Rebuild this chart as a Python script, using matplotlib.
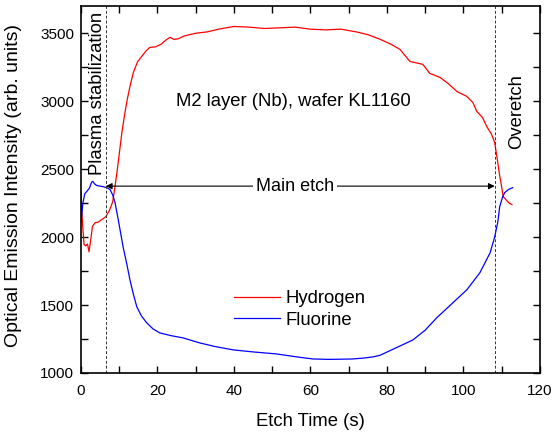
import matplotlib
matplotlib.use("Agg")
import matplotlib.pyplot as plt
import numpy as np

plt.rcParams["font.family"] = ["Liberation Sans", "DejaVu Sans"]

# hydrogen line
h_time = [0, 0.4, 0.8, 1.3, 1.7, 2.1, 2.6, 3.0, 3.7, 4.5, 5.5, 6.5, 7.5, 8.3, 8.9,
          9.4, 10.0, 10.7, 11.4, 12.1, 12.9, 13.7, 14.8, 15.9, 17.0, 18.0, 19.5,
          21.0, 22.2, 23.3, 24.3, 25.5, 27.0, 30.0, 33.0, 36.0, 40.0, 44.0, 48.0,
          52.0, 56.0, 60.0, 64.0, 68.0, 72.0, 75.0, 78.2, 81.0, 83.4, 86.0, 89.4,
          91.2, 93.9, 96.0, 98.3, 100.9, 102.5, 103.5, 105.0, 106.1, 107.3, 108.2,
          108.6, 109.0, 109.5, 110.0, 110.4, 111.3, 112.0, 112.7]
h_vals = [2327, 2100, 1945, 1935, 1950, 1892, 1990, 2080, 2106, 2110, 2130, 2150,
          2200, 2260, 2372, 2475, 2610, 2770, 2900, 3013, 3120, 3212, 3290, 3330,
          3370, 3396, 3400, 3420, 3450, 3470, 3455, 3460, 3480, 3500, 3510, 3530,
          3550, 3545, 3535, 3540, 3545, 3530, 3525, 3530, 3510, 3490, 3456, 3420,
          3382, 3293, 3271, 3205, 3175, 3130, 3072, 3035, 2990, 2925, 2880, 2814,
          2760, 2696, 2620, 2548, 2450, 2371, 2298, 2270, 2250, 2239]

# fluorine line
f_time = [0, 0.5, 1.0, 1.5, 2.2, 2.8, 3.1, 3.6, 4.1, 5.0, 6.0, 7.0, 7.6, 8.3, 8.9,
          9.8, 11.0, 12.0, 12.8, 13.7, 14.6, 15.8, 17.2, 18.8, 20.6, 23.5, 26.7,
          31.1, 35.0, 39.8, 45.0, 51.2, 56.0, 60.7, 65.0, 71.0, 74.0, 76.3, 78.2,
          82.0, 86.8, 90.0, 93.0, 97.0, 100.9, 104.3, 107.0, 108.2, 109.0, 109.5,
          110.2, 110.8, 111.8, 112.9]
f_vals = [2106, 2250, 2320, 2335, 2360, 2405, 2410, 2390, 2380, 2375, 2370, 2360,
          2350, 2310, 2254, 2120, 1930, 1800, 1686, 1580, 1487, 1420, 1369, 1325,
          1295, 1275, 1258, 1221, 1195, 1170, 1155, 1140, 1120, 1103, 1100, 1103,
          1110, 1118, 1130, 1180, 1243, 1315, 1405, 1510, 1612, 1737, 1885, 2003,
          2110, 2224, 2290, 2327, 2350, 2364]

stab_end = 6.5
etch_end = 108.2
arrow_y = 2375

fig = plt.figure(figsize=(5.52, 4.34), dpi=100)
ax = fig.add_axes([0.1467, 0.1406, 0.8313, 0.8454])

ax.plot(h_time, h_vals, color="#ff0000", lw=0.9, label="Hydrogen")
ax.plot(f_time, f_vals, color="#0000ff", lw=0.9, label="Fluorine")

ax.axvline(stab_end, color="#333333", ls=(0, (3, 2)), lw=0.7)
ax.axvline(etch_end, color="#333333", ls=(0, (3, 2)), lw=0.7)

ax.annotate("", xy=(stab_end, arrow_y), xytext=(etch_end, arrow_y),
            arrowprops=dict(arrowstyle="<|-|>", color="black", lw=0.8,
                            mutation_scale=9, shrinkA=0, shrinkB=0))
ax.text(56, arrow_y, "Main etch", ha="center", va="center", fontsize=13,
        bbox=dict(facecolor="white", edgecolor="none", pad=2))

ax.text(55.5, 3000, "M2 layer (Nb), wafer KL1160", ha="center", va="center",
        fontsize=13.3)
ax.text(4.2, 3660, "Plasma stabilization", rotation=90, ha="center", va="top",
        fontsize=13.3)
ax.text(113.8, 2925, "Overetch", rotation=90, ha="center", va="center",
        fontsize=13.3)

ax.set_xlim(0, 120)
ax.set_ylim(1000, 3700)
ax.set_xticks(np.arange(0, 121, 20))
ax.set_xticks(np.arange(0, 121, 10), minor=True)
ax.set_yticks(np.arange(1000, 3501, 500))
ax.set_yticks(np.arange(1000, 3701, 250), minor=True)
ax.tick_params(which="both", direction="in", top=True, right=True,
               labelsize=11, width=1.0, length=5)
ax.tick_params(axis="x", pad=8)
ax.tick_params(axis="y", pad=5)
for sp in ax.spines.values():
    sp.set_linewidth(1.2)

ax.set_xlabel("Etch Time (s)", fontsize=13.3)
ax.set_ylabel("Optical Emission Intensity (arb. units)", fontsize=14)
ax.xaxis.set_label_coords(0.501, -0.109)
ax.yaxis.set_label_coords(-0.1285, 0.512)

ax.legend(loc="center left", bbox_to_anchor=(0.305, 0.173), frameon=False,
          fontsize=13.3, handlelength=2.5, handletextpad=0.3, labelspacing=0.24,
          borderpad=0.2)

fig.savefig("out.png", dpi=100)
